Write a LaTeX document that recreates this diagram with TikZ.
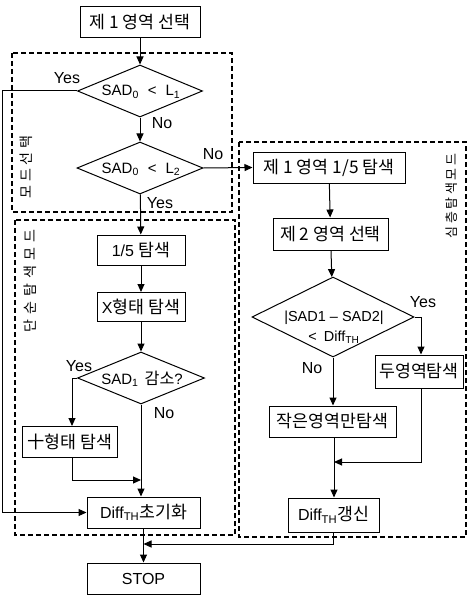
\documentclass[tikz,border=0pt]{standalone}
\usepackage{fontspec}
\setmainfont{Liberation Sans}
\newfontfamily\kr[Scale=1.08]{Noto Sans CJK KR}
\usetikzlibrary{shapes.geometric,arrows.meta}
\tikzset{
  every node/.style={font=\fontsize{16}{18}\selectfont},
  proc/.style={draw, line width=1pt, inner sep=0pt, align=center},
  dia/.style={draw, diamond, line width=1pt, inner sep=0pt},
  diatext/.style={font=\fontsize{15}{17}\selectfont, inner sep=0pt},
  conn/.style={line width=1pt, -{Triangle[length=8pt,width=7pt]}},
  zone/.style={line width=1.2pt, dash pattern=on 5pt off 3pt},
  lab/.style={font=\fontsize{16}{18}\selectfont, inner sep=0pt},
  vlab/.style={rotate=90, font=\kr\fontsize{13}{15}\selectfont, inner sep=0pt}
}
\newcommand{\K}[1]{{\kr #1}}
\begin{document}
\begin{tikzpicture}[x=1pt,y=-1pt]
\useasboundingbox (0,0) rectangle (468,599);

% zones
\draw[zone] (12,53) rectangle (232,212);
\draw[zone] (15,220) rectangle (235,535);
\draw[zone] (239,142) rectangle (466,537);

\node[vlab] (v1) at (26,167) {모\hspace{4pt}드\hspace{4pt}선\hspace{4pt}택};
\node[vlab] (v2) at (30,281) {단\hspace{5pt}순\hspace{5pt}탐\hspace{5pt}색\hspace{5pt}모\hspace{5pt}드};
\node[vlab, font=\kr\fontsize{12}{14}\selectfont] (v3) at (452,196) {심\hspace{2.5pt}층\hspace{2.5pt}탐\hspace{2.5pt}색\hspace{2.5pt}모\hspace{2.5pt}드};

% left column
\node[proc, minimum width=120pt, minimum height=31pt] (b1) at (140,22) {\K{제 1 영역 선택}};
\node[dia, minimum width=125pt, minimum height=52pt] (d1) at (140,91) {};
\node[diatext] (t1) at (141,92) {SAD\textsubscript{0}\hspace{9pt}<\hspace{9pt}L\textsubscript{1}};
\node[dia, minimum width=126pt, minimum height=52pt] (d2) at (140,168) {};
\node[diatext] (t2) at (141,169) {SAD\textsubscript{0}\hspace{9pt}<\hspace{9pt}L\textsubscript{2}};

\node[proc, minimum width=88pt, minimum height=30pt] (b2) at (141,250) {1/5 \K{탐색}};
\node[proc, minimum width=88pt, minimum height=29pt] (b3) at (141,307) {X\K{형태 탐색}};
\node[dia, minimum width=127pt, minimum height=52pt] (d3) at (141,378) {};
\node[diatext] (t3) at (142,379) {SAD\textsubscript{1}\hspace{2pt} \K{감소}?};
\node[proc, minimum width=95pt, minimum height=31pt] (b4) at (70,442) {\K{十형태 탐색}};
\node[proc, minimum width=113pt, minimum height=31pt] (b5) at (143.5,512.5) {Diff\textsubscript{TH}\K{초기화}};
\node[proc, minimum width=113pt, minimum height=31pt] (b6) at (143.5,578.5) {STOP};

% right column
\node[proc, minimum width=152pt, minimum height=31pt] (b7) at (329,167.5) {\K{제 1 영역 1/5 탐색}};
\node[proc, minimum width=115pt, minimum height=32pt] (b8) at (330.5,234) {\K{제 2 영역 선택}};
\node[dia, minimum width=162pt, minimum height=80pt] (d4) at (333,317) {};
\node[diatext, align=center, font=\fontsize{14.5}{20}\selectfont] (t4) at (334,327) {|SAD1 -- SAD2|\\ <\hspace{3pt} Diff\textsubscript{TH}};
\node[proc, minimum width=88pt, minimum height=33pt] (b9) at (419,371.5) {\K{두영역탐색}};
\node[proc, minimum width=127pt, minimum height=31pt] (b10) at (332.5,421.5) {\K{작은영역만탐색}};
\node[proc, minimum width=91pt, minimum height=34pt] (b11) at (333.5,515) {Diff\textsubscript{TH}\K{갱신}};

% coordinates
\coordinate (c1) at (2,91);
\coordinate (c2) at (2,512.5);
\coordinate (c3) at (72,378);
\coordinate (c4) at (72,480);
\coordinate (c5) at (141,480);
\coordinate (c6) at (421,317);
\coordinate (c7) at (421,462);
\coordinate (c8) at (334,462);
\coordinate (c9) at (333.5,544);
\coordinate (c10) at (143.5,544);

% connectors
\draw[conn] (b1) -- (d1);
\draw[conn] (d1) -- (d2);
\draw[conn] (d1.west) -- (c1) -- (c2) -- (b5.west);
\draw[conn] (d2.east) -- (b7.west);
\draw[conn] (d2) -- (b2);
\draw[conn] (b2) -- (b3);
\draw[conn] (b3) -- (d3);
\draw[conn] (d3.west) -- (c3) -- (b4.north -| c3);
\draw[conn] (d3) -- (b5.north -| d3);
\draw[conn] (b4.south -| c4) -- (c4) -- (c5);
\draw[conn] (b5) -- (b6);
\draw[conn] (b7) -- (b8);
\draw[conn] (b8) -- (d4);
\draw[conn] (d4.east) -- (c6) -- (b9.north -| c6);
\draw[conn] (d4.south) -- (b10.north -| d4.south);
\draw[conn] (b9.south -| c7) -- (c7) -- (c8);
\draw[conn] (b10.south -| c8) -- (b11.north -| c8);
\draw[conn] (b11.south) -- (c9) -- (c10);

% labels
\node[lab] (y1) at (67,78) {Yes};
\node[lab] (n1) at (162,123) {No};
\node[lab] (n2) at (213,154) {No};
\node[lab] (y2) at (160,203) {Yes};
\node[lab] (y3) at (79,366) {Yes};
\node[lab] (n3) at (164,413) {No};
\node[lab] (y4) at (423,302) {Yes};
\node[lab] (n4) at (312,368) {No};
\end{tikzpicture}
\end{document}
